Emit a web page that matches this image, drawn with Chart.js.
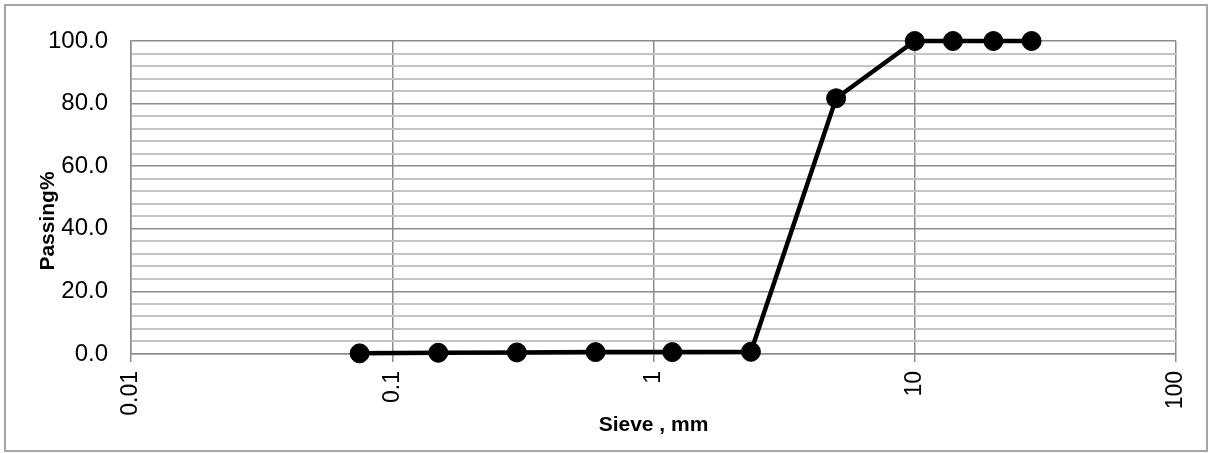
<!DOCTYPE html>
<html>
<head>
<meta charset="utf-8">
<script src="https://cdn.jsdelivr.net/npm/chart.js@4/dist/chart.umd.min.js"></script>
<style>
html,body{margin:0;padding:0;background:#fff;}
#wrap{position:relative;width:1210px;height:453px;}
</style>
</head>
<body>
<div id="wrap"><canvas id="c" width="1210" height="453"></canvas></div>
<script>
// Data
const sieveSizes = [0.075, 0.15, 0.3, 0.6, 1.18, 2.36, 5, 10, 14, 20, 28];
const passingPct = [0.2, 0.4, 0.5, 0.6, 0.6, 0.7, 81.7, 100, 100, 100, 100];
const xTickValues = [0.01, 0.1, 1, 10, 100];
const xTickLabels = ['0.01', '0.1', '1', '10', '100'];
const xTitle = 'Sieve , mm';
const yTitle = 'Passing%';

const borderPlugin = {
  id: 'outerBorder',
  afterDraw(chart) {
    const ctx = chart.ctx;
    ctx.save();
    ctx.strokeStyle = '#a6a6a6';
    ctx.lineWidth = 2;
    ctx.strokeRect(5, 5, 1202, 446);
    // y-axis title (Excel places it slightly below the plot centre)
    ctx.translate(48, 221);
    ctx.rotate(-Math.PI / 2);
    ctx.fillStyle = '#000';
    ctx.font = 'bold 21px "Liberation Sans"';
    ctx.textAlign = 'center';
    ctx.textBaseline = 'middle';
    ctx.fillText(yTitle, 0, 0);
    ctx.restore();
  }
};

new Chart(document.getElementById('c'), {
  type: 'line',
  data: {
    datasets: [{
      data: sieveSizes.map((s, i) => ({x: s, y: passingPct[i]})),
      borderColor: '#000',
      backgroundColor: '#000',
      borderWidth: 4.5,
      pointRadius: 9.5,
      pointHoverRadius: 9.5,
      pointBorderWidth: 1,
      pointBackgroundColor: '#000',
      pointBorderColor: '#000',
      tension: 0,
      clip: false
    }]
  },
  options: {
    responsive: false,
    animation: false,
    events: [],
    layout: {padding: {left: 0, right: 34, top: 41, bottom: 0}},
    plugins: {legend: {display: false}, tooltip: {enabled: false}},
    scales: {
      x: {
        type: 'logarithmic',
        min: 0.01,
        max: 100,
        afterBuildTicks(scale) {
          scale.ticks = xTickValues.map(v => ({value: v}));
        },
        afterFit(scale) {
          scale.height = 99;
          scale.paddingRight = 0;
          scale.paddingLeft = 0;
        },
        ticks: {
          autoSkip: false,
          minRotation: 90,
          maxRotation: 90,
          padding: 9,
          color: '#000',
          font: {family: 'Liberation Sans', size: 23},
          callback(value, index) { return xTickLabels[index]; }
        },
        grid: {
          color: '#8c8c8c',
          lineWidth: 1.5,
          tickLength: 8,
          drawTicks: true
        },
        border: {display: true, color: '#8c8c8c', width: 1.5},
        title: {
          display: true,
          text: xTitle,
          color: '#000',
          font: {family: 'Liberation Sans', size: 21, weight: 'bold'},
          padding: {top: 0, bottom: 15}
        }
      },
      y: {
        min: 0,
        max: 100,
        afterFit(scale) { scale.width = 131; },
        ticks: {
          stepSize: 4,
          autoSkip: false,
          padding: 23,
          color: '#000',
          font: {family: 'Liberation Sans', size: 24},
          callback(value) { return value % 20 === 0 ? value.toFixed(1) : ''; }
        },
        grid: {
          drawTicks: false,
          tickLength: 0,
          color(ctx) { return ctx.tick && ctx.tick.value % 20 === 0 ? '#8c8c8c' : '#c4c4c4'; },
          lineWidth(ctx) { return ctx.tick && ctx.tick.value % 20 === 0 ? 1.5 : 2; }
        },
        border: {display: true, color: '#8c8c8c', width: 1.5},
        title: {display: false}
      }
    }
  },
  plugins: [borderPlugin]
});
</script>
</body>
</html>
